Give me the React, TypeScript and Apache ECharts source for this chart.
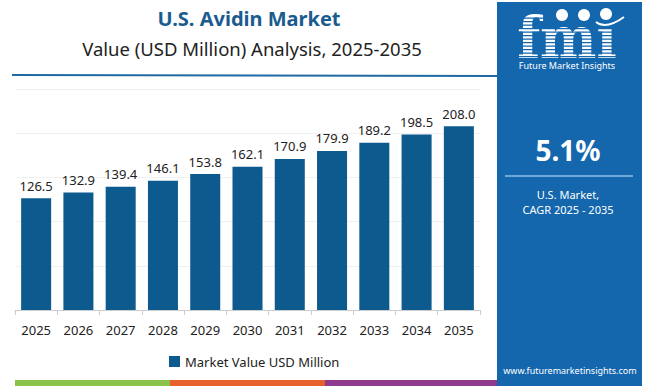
import React, { useEffect, useRef } from "react";
import * as echarts from "echarts";

const categories = ["2025", "2026", "2027", "2028", "2029", "2030", "2031", "2032", "2033", "2034", "2035"];
const marketValues = [126.5, 132.9, 139.4, 146.1, 153.8, 162.1, 170.9, 179.9, 189.2, 198.5, 208.0];
const seriesName = "Market Value USD Million";
const titleText = "U.S. Avidin Market";
const subtitleText = "Value (USD Million) Analysis, 2025-2035";
const cagrText = "5.1%";
const cagrLabel1 = "U.S. Market,";
const cagrLabel2 = "CAGR 2025 - 2035";
const website = "www.futuremarketinsights.com";

const BAR = "#0d5a8e";
const PANEL = "#1467ad";
const FONT = "'Noto Sans', sans-serif";

export default function App() {
  const ref = useRef<HTMLDivElement>(null);
  useEffect(() => {
    document.body.style.margin = "0";
    if (!ref.current) return;
    const chart = echarts.init(ref.current, null, { renderer: "svg" });
    const stripes: any[] = [];
    for (let y = 17.5; y <= 58; y += 3.5) {
      stripes.push({
        type: "rect",
        shape: { x: 512, y: y, width: 112, height: 1.2 },
        style: { fill: PANEL },
        z: 12,
      });
    }
    chart.setOption({
      animation: false,
      textStyle: { fontFamily: FONT },
      grid: { left: 15, right: 170, top: 89, bottom: 76 },
      xAxis: {
        type: "category",
        data: categories,
        axisLine: { lineStyle: { color: "#cccccc" } },
        axisTick: { show: true, lineStyle: { color: "#cccccc" } },
        axisLabel: { color: "#222", fontSize: 13, margin: 13, fontFamily: FONT },
      },
      yAxis: {
        type: "value",
        min: 0,
        max: 250,
        interval: 50,
        axisLabel: { show: false },
        axisLine: { show: false },
        axisTick: { show: false },
        splitLine: { lineStyle: { color: "#f0f0f0" } },
      },
      legend: {
        data: [seriesName],
        left: 164,
        top: 350,
        itemWidth: 11,
        itemHeight: 11,
        itemGap: 5,
        icon: "rect",
        textStyle: { color: "#222", fontSize: 13, fontFamily: FONT },
      },
      series: [
        {
          name: seriesName,
          type: "bar",
          data: marketValues,
          barWidth: "71%",
          itemStyle: { color: BAR },
          label: {
            show: true,
            position: "top",
            distance: 6,
            color: "#222",
            fontSize: 13,
            fontFamily: FONT,
            formatter: (p: any) => Number(p.value).toFixed(1),
          },
        },
      ],
      graphic: [
        {
          type: "text",
          style: {
            text: titleText,
            x: 249,
            y: 18,
            align: "center",
            verticalAlign: "middle",
            fill: "#1b5c8e",
            font: `bold 20px ${FONT}`,
          },
        },
        {
          type: "text",
          style: {
            text: subtitleText,
            x: 252,
            y: 48,
            align: "center",
            verticalAlign: "middle",
            fill: "#222",
            font: `18.5px ${FONT}`,
          },
        },
        {
          type: "line",
          shape: { x1: 12, y1: 75, x2: 497, y2: 76 },
          style: { stroke: "#1f6aa5", lineWidth: 2 },
        },
        {
          type: "rect",
          shape: { x: 497, y: 2, width: 145, height: 384 },
          style: { fill: PANEL },
          z: 10,
        },
        {
          type: "text",
          x: 567,
          y: 38,
          scaleX: 0.92,
          style: {
            text: "fmı",
            x: 0,
            y: 0,
            align: "center",
            verticalAlign: "middle",
            fill: "#ffffff",
            font: `bold 58px 'DejaVu Serif', serif`,
          },
          z: 11,
        },
        ...stripes,
        {
          type: "circle",
          shape: { cx: 562, cy: 15, r: 6 },
          style: { fill: "#ffffff" },
          z: 13,
        },
        {
          type: "circle",
          shape: { cx: 584, cy: 15, r: 6 },
          style: { fill: "#ffffff" },
          z: 13,
        },
        {
          type: "circle",
          shape: { cx: 606, cy: 14, r: 6 },
          style: { fill: "#ffffff" },
          z: 13,
        },
        {
          type: "bezierCurve",
          shape: { x1: 596, y1: 22, cpx1: 606, cpy1: 30, x2: 624, y2: 17 },
          style: { stroke: "#ffffff", lineWidth: 2, fill: "none" },
          z: 13,
        },
        {
          type: "text",
          style: {
            text: "Future Market Insights",
            x: 567,
            y: 65,
            align: "center",
            verticalAlign: "middle",
            fill: "#ffffff",
            font: `9px ${FONT}`,
          },
          z: 13,
        },
        {
          type: "text",
          style: {
            text: cagrText,
            x: 568,
            y: 150,
            align: "center",
            verticalAlign: "middle",
            fill: "#ffffff",
            font: `bold 28px ${FONT}`,
          },
          z: 13,
        },
        {
          type: "line",
          shape: { x1: 505, y1: 176, x2: 633, y2: 176 },
          style: { stroke: "#8cc0e8", lineWidth: 1.5 },
          z: 13,
        },
        {
          type: "text",
          style: {
            text: cagrLabel1,
            x: 568,
            y: 194,
            align: "center",
            verticalAlign: "middle",
            fill: "#ffffff",
            font: `11px ${FONT}`,
          },
          z: 13,
        },
        {
          type: "text",
          style: {
            text: cagrLabel2,
            x: 568,
            y: 209,
            align: "center",
            verticalAlign: "middle",
            fill: "#ffffff",
            font: `11px ${FONT}`,
          },
          z: 13,
        },
        {
          type: "text",
          style: {
            text: website,
            x: 570,
            y: 370,
            align: "center",
            verticalAlign: "middle",
            fill: "#ffffff",
            font: `9px ${FONT}`,
          },
          z: 13,
        },
        {
          type: "rect",
          shape: { x: 15, y: 380, width: 155, height: 6 },
          style: { fill: "#8bc34a" },
        },
        {
          type: "rect",
          shape: { x: 170, y: 380, width: 155, height: 6 },
          style: { fill: "#e8612c" },
        },
        {
          type: "rect",
          shape: { x: 325, y: 380, width: 172, height: 6 },
          style: { fill: "#8e3a8e" },
        },
      ],
    });
    return () => chart.dispose();
  }, []);
  return (
    <div
      ref={ref}
      style={{ position: "fixed", left: 0, top: 0, width: 650, height: 386, background: "#fff" }}
    />
  );
}
